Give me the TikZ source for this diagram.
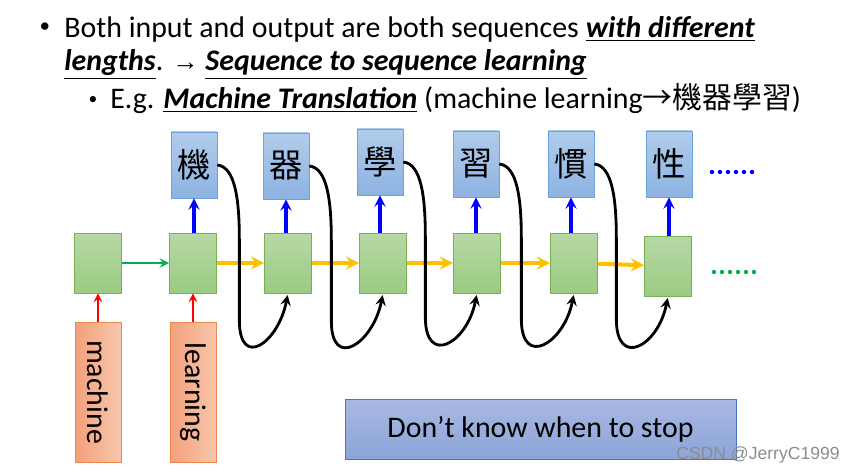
\documentclass[tikz,border=0pt]{standalone}
\usepackage{xcolor}
\usepackage{fontspec}
\setmainfont{Carlito}
\newfontfamily\cjk{Noto Sans CJK TC}
\newfontfamily\wmfont{Liberation Sans}
\usepackage{tikz}
\usetikzlibrary{arrows}

\definecolor{hidtop}{HTML}{B7D8A6}
\definecolor{hidbot}{HTML}{9BCB82}
\definecolor{hidedge}{HTML}{77B153}
\definecolor{outtop}{HTML}{B1CCEB}
\definecolor{outbot}{HTML}{8DB3E2}
\definecolor{outedge}{HTML}{6EA2DC}
\definecolor{inleft}{HTML}{F3A07B}
\definecolor{inright}{HTML}{F8C6AD}
\definecolor{inedge}{HTML}{F08A4B}
\definecolor{stoptop}{HTML}{A9B8E2}
\definecolor{stopbot}{HTML}{8CA5D8}
\definecolor{stopedge}{HTML}{4A74C8}
\definecolor{arrgreen}{HTML}{00B050}
\definecolor{arryellow}{HTML}{FFC000}

\newcommand{\ttlsize}{\fontsize{17}{19}\selectfont}

\begin{document}
\begin{tikzpicture}[x=0.02cm, y=-0.02cm,
	hidbox/.style={draw=hidedge, top color=hidtop, bottom color=hidbot, minimum width=0.94cm, minimum height=1.2cm, inner sep=0pt},
	outbox/.style={draw=outedge, top color=outtop, bottom color=outbot, minimum width=0.92cm, minimum height=1.32cm, inner sep=0pt, font=\cjk\fontsize{19}{19}\selectfont},
	inbox/.style={draw=inedge, left color=inleft, right color=inright, minimum width=0.92cm, minimum height=2.8cm, inner sep=0pt, font=\fontsize{17}{17}\selectfont},
	textline/.style={anchor=base west, inner sep=0pt, font=\ttlsize},
	loopback/.style={-stealth, black, line width=1.6pt, shorten >=1pt},
	]
		\useasboundingbox (0,0) rectangle (843,472);

		% bullet text
		\node[font=\fontsize{12}{14}\selectfont] (dot1) at (45,28) {•};
		\node[anchor=north west, inner sep=0pt, align=left, font=\ttlsize] (line1) at (64,16) {Both input and output are both sequences \underline{\textbf{\textit{with different}}}\\
			\underline{\textbf{\textit{lengths}}}. {\wmfont\fontsize{15}{19}\selectfont →} \underline{\textbf{\textit{Sequence to sequence learning}}}};
		\node[font=\fontsize{10}{12}\selectfont] (dot2) at (93,100) {•};
		\node[textline] (line3) at (110,109) {E.g. \underline{\textbf{\textit{Machine Translation}}} (machine learning{\cjk →機器學習})};

		% hidden states
		\foreach \i/\x/\y in {1/98/263, 2/193/263, 3/288/263, 4/383/263, 5/477/263, 6/574/263, 7/668/266}
			\node[hidbox] (h\i) at (\x,\y) {};

		% outputs
		\foreach \i/\x/\y/\c in {2/194/165/機, 3/286/166/器, 4/380/162/學, 5/476/164/習, 6/571/164/慣, 7/669/164/性}
			\node[outbox] (o\i) at (\x,\y) {\c};
		\foreach \i in {2,...,7}
			\draw[-stealth, blue, line width=1.8pt] (o\i.south |- h\i.north) -- (o\i.south);

		% inputs
		\node[inbox] (in1) at (98,392) {\rotatebox{-90}{machine}};
		\node[inbox] (in2) at (193,392) {\rotatebox{-90}{learning}};
		\draw[-stealth, red, line width=1.2pt] (in1) -- (h1);
		\draw[-stealth, red, line width=1.2pt] (in2) -- (h2);

		% recurrence
		\draw[-stealth, arrgreen, line width=1.4pt] (h1) -- (h2);
		\foreach \a/\b in {2/3,3/4,4/5,5/6,6/7}
			\draw[-stealth, arryellow, line width=2.3pt] (h\a) -- (h\b);

		% output fed back as next input
		\foreach \a/\b in {2/3,3/4,4/5,5/6,6/7}
			\draw[loopback] (o\a.east) .. controls +(18,2) and +(0,-40) .. ++(22,75) -- ++(0,80) .. controls +(0,50) and +(-10,50) .. (h\b.south);

		\node[anchor=base west, text=blue, font=\fontsize{17}{17}\selectfont] (moreout) at (702,175) {\textbf{......}};
		\node[anchor=base west, text=arrgreen, font=\fontsize{17}{17}\selectfont] (morehid) at (704,275) {\textbf{......}};

		\node[draw=stopedge, top color=stoptop, bottom color=stopbot, minimum width=7.82cm, minimum height=1.2cm, font=\fontsize{17}{19}\selectfont] (stop) at (540.5,429) {Don’t know when to stop};

		\node[text=black!45, font=\wmfont\fontsize{10}{12}\selectfont] (mark) at (758,455) {CSDN @JerryC1999};
	\end{tikzpicture}
\end{document}
